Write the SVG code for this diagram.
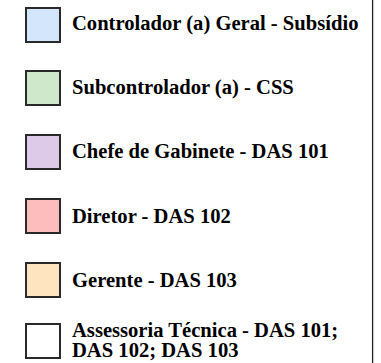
<svg xmlns="http://www.w3.org/2000/svg" width="381" height="363" viewBox="0 0 381 363">
<style>
.sw{stroke:#2a2a2a;stroke-width:2}
.lb{font-family:"Liberation Serif","Times New Roman",serif;font-weight:bold;font-size:20.6px;fill:#000}
</style>
<rect x="0" y="0" width="381" height="363" fill="#ffffff"/>
<line x1="372.6" y1="0" x2="372.6" y2="363" stroke="#222" stroke-width="1.3"/>
<g id="item-controlador">
<rect class="sw" x="26" y="8" width="34" height="34" fill="#d4e6fc"/>
<text class="lb" x="72" y="30">Controlador (a) Geral - Subsídio</text>
</g>
<g id="item-subcontrolador">
<rect class="sw" x="26" y="71" width="34" height="34" fill="#cfe8cc"/>
<text class="lb" x="72" y="94">Subcontrolador (a) - CSS</text>
</g>
<g id="item-chefe">
<rect class="sw" x="26" y="135" width="34" height="34" fill="#ddcae8"/>
<text class="lb" x="72" y="158">Chefe de Gabinete - DAS 101</text>
</g>
<g id="item-diretor">
<rect class="sw" x="26" y="199" width="34" height="34" fill="#fdbdbd"/>
<text class="lb" x="72" y="223">Diretor - DAS 102</text>
</g>
<g id="item-gerente">
<rect class="sw" x="26" y="263" width="34" height="34" fill="#ffe5bf"/>
<text class="lb" x="72" y="287">Gerente - DAS 103</text>
</g>
<g id="item-assessoria">
<rect class="sw" x="26" y="324" width="34" height="34" fill="#ffffff"/>
<text class="lb" x="72" y="337">Assessoria Técnica - DAS 101;</text>
<text class="lb" x="72" y="357">DAS 102; DAS 103</text>
</g>
</svg>
